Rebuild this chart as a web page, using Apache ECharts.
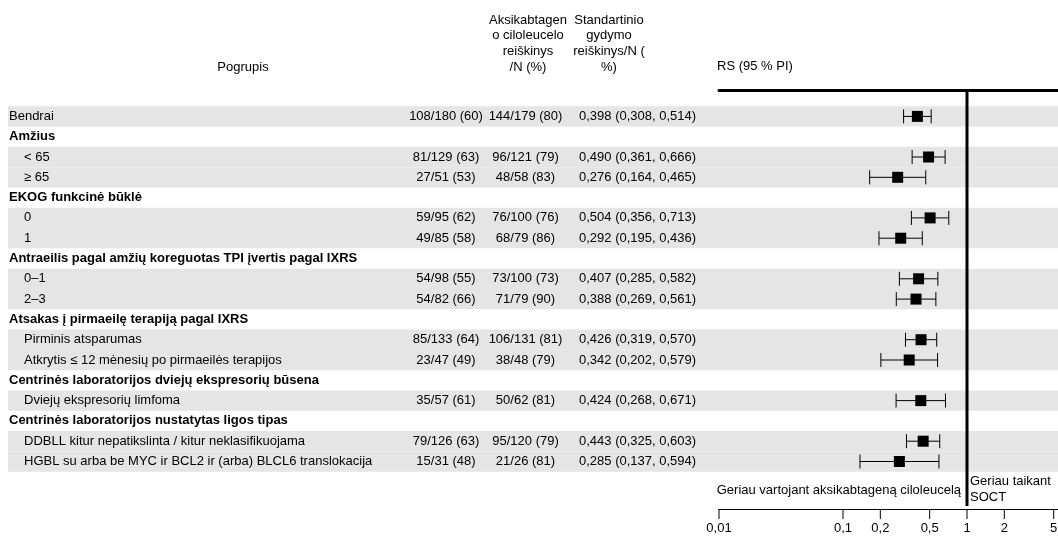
<!DOCTYPE html>
<html>
<head>
<meta charset="utf-8">
<script src="https://cdn.jsdelivr.net/npm/echarts@6/dist/echarts.min.js"></script>
<style>
  html, body { margin: 0; padding: 0; background: #fff; }
  #chart { width: 1058px; height: 538px; }
</style>
</head>
<body>
<div id="chart"></div>
<script>
// Subgroup rows, top to bottom
const subgroups = [
  'Bendrai',
  'Amžius',
  '< 65',
  '≥ 65',
  'EKOG funkcinė būklė',
  '0',
  '1',
  'Antraeilis pagal amžių koreguotas TPI įvertis pagal IXRS',
  '0–1',
  '2–3',
  'Atsakas į pirmaeilę terapiją pagal IXRS',
  'Pirminis atsparumas',
  'Atkrytis ≤ 12 mėnesių po pirmaeilės terapijos',
  'Centrinės laboratorijos dviejų ekspresorių būsena',
  'Dviejų ekspresorių limfoma',
  'Centrinės laboratorijos nustatytas ligos tipas',
  'DDBLL kitur nepatikslinta / kitur neklasifikuojama',
  'HGBL su arba be MYC ir BCL2 ir (arba) BLCL6 translokacija'
];
// 'all' = overall row, 'head' = bold group heading, 'sub' = indented subgroup
const rowKind = ['all', 'head', 'sub', 'sub', 'head', 'sub', 'sub', 'head', 'sub', 'sub',
                 'head', 'sub', 'sub', 'head', 'sub', 'head', 'sub', 'sub'];

// Axicabtagene ciloleucel arm: events / N (%)
const axiEvents = [108, null, 81, 27, null, 59, 49, null, 54, 54, null, 85, 23, null, 35, null, 79, 15];
const axiTotal  = [180, null, 129, 51, null, 95, 85, null, 98, 82, null, 133, 47, null, 57, null, 126, 31];
const axiPct    = [60, null, 63, 53, null, 62, 58, null, 55, 66, null, 64, 49, null, 61, null, 63, 48];

// Standard-of-care arm: events / N (%)
const socEvents = [144, null, 96, 48, null, 76, 68, null, 73, 71, null, 106, 38, null, 50, null, 95, 21];
const socTotal  = [179, null, 121, 58, null, 100, 79, null, 100, 79, null, 131, 48, null, 62, null, 120, 26];
const socPct    = [80, null, 79, 83, null, 76, 86, null, 73, 90, null, 81, 79, null, 81, null, 79, 81];

// Hazard ratio with 95 % CI
const hazardRatio = [0.398, null, 0.490, 0.276, null, 0.504, 0.292, null, 0.407, 0.388, null, 0.426, 0.342, null, 0.424, null, 0.443, 0.285];
const ciLower     = [0.308, null, 0.361, 0.164, null, 0.356, 0.195, null, 0.285, 0.269, null, 0.319, 0.202, null, 0.268, null, 0.325, 0.137];
const ciUpper     = [0.514, null, 0.666, 0.465, null, 0.713, 0.436, null, 0.582, 0.561, null, 0.570, 0.579, null, 0.671, null, 0.603, 0.594];

// Log axis tick values
const axisTicks = [0.01, 0.1, 0.2, 0.5, 1, 2, 5];

// Layout
const FONT_FAMILY = '"Liberation Sans", Arial, Helvetica, sans-serif';
const FONT_SIZE = 13;
const TEXT_COLOR = '#000';
const BAND_COLOR = '#e5e5e5';
const ROW0_Y = 116.4;          // centre of the first row, px
const ROW_PITCH = 20.3;        // row height, px
const GRID_TOP = 90;
const GRID_BOTTOM_Y = 509;
const Y_MIN = (GRID_TOP - ROW0_Y) / ROW_PITCH;
const Y_MAX = (GRID_BOTTOM_Y - ROW0_Y) / ROW_PITCH;
const LABEL_X = 9;
const SUB_X = 24;
const BAND_LEFT = 8;
const COL_AXI_X = 446;
const COL_SOC_X = 525.5;
const COL_HR_X = 579;

const fmt3 = v => v.toFixed(3).replace('.', ',');
const fmtTick = v => String(v).replace('.', ',');
const font = bold => (bold ? 'bold ' : '') + FONT_SIZE + 'px ' + FONT_FAMILY;

function textEl(x, y, text, align, bold) {
  return {
    type: 'text',
    style: {
      x: x, y: y, text: text,
      fill: TEXT_COLOR,
      font: font(bold),
      align: align, textAlign: align,
      verticalAlign: 'middle', textVerticalAlign: 'middle'
    }
  };
}

// Background bands and the text columns of each row
function renderRow(params, api) {
  const i = api.value(1);
  const cy = api.coord([1, i])[1];
  const h = api.size([0, 1])[1];
  const kind = rowKind[i];
  const children = [];
  if (kind !== 'head') {
    children.push({
      type: 'rect',
      shape: { x: BAND_LEFT, y: cy - h / 2, width: api.getWidth() - BAND_LEFT, height: h },
      style: { fill: BAND_COLOR }
    });
  }
  children.push(textEl(kind === 'sub' ? SUB_X : LABEL_X, cy, subgroups[i], 'left', kind === 'head'));
  if (kind !== 'head') {
    children.push(textEl(COL_AXI_X, cy, axiEvents[i] + '/' + axiTotal[i] + ' (' + axiPct[i] + ')', 'center'));
    children.push(textEl(COL_SOC_X, cy, socEvents[i] + '/' + socTotal[i] + ' (' + socPct[i] + ')', 'center'));
    children.push(textEl(COL_HR_X, cy,
      fmt3(hazardRatio[i]) + ' (' + fmt3(ciLower[i]) + ', ' + fmt3(ciUpper[i]) + ')', 'left'));
  }
  return { type: 'group', children: children };
}

// Square at the hazard ratio with whiskers to the CI limits
function renderForest(params, api) {
  const row = api.value(1);
  const c = api.coord([api.value(0), row]);
  const lo = api.coord([api.value(2), row]);
  const hi = api.coord([api.value(3), row]);
  const cap = 7, sq = 11;
  const stroke = { stroke: '#000', lineWidth: 1 };
  return {
    type: 'group',
    children: [
      { type: 'line', shape: { x1: lo[0], y1: c[1], x2: hi[0], y2: c[1] }, style: stroke },
      { type: 'line', shape: { x1: lo[0], y1: c[1] - cap, x2: lo[0], y2: c[1] + cap }, style: stroke },
      { type: 'line', shape: { x1: hi[0], y1: c[1] - cap, x2: hi[0], y2: c[1] + cap }, style: stroke },
      { type: 'rect', shape: { x: c[0] - sq / 2, y: c[1] - sq / 2, width: sq, height: sq }, style: { fill: '#000' } }
    ]
  };
}

// Tick marks and labels under the log axis
function renderTick(params, api) {
  const p = api.coord([api.value(0), api.value(1)]);
  return {
    type: 'group',
    children: [
      { type: 'line', shape: { x1: p[0], y1: p[1], x2: p[0], y2: p[1] + 10 }, style: { stroke: '#000', lineWidth: 1 } },
      textEl(p[0], p[1] + 19.5, fmtTick(api.value(0)), 'center')
    ]
  };
}

const rowData = subgroups.map((_, i) => [1, i]);
const forestData = [];
hazardRatio.forEach((hr, i) => {
  if (hr != null) forestData.push([hr, i, ciLower[i], ciUpper[i]]);
});
const tickData = axisTicks.map(v => [v, Y_MAX]);

const chart = echarts.init(document.getElementById('chart'), null, { renderer: 'canvas' });

const option = {
  animation: false,
  backgroundColor: '#fff',
  grid: { left: 719, top: GRID_TOP, width: 372, height: GRID_BOTTOM_Y - GRID_TOP, outerBoundsMode: 'none' },
  xAxis: [
    {
      type: 'log', logBase: 10, min: 0.01, max: 10, position: 'bottom',
      axisLine: { show: true, onZero: false, lineStyle: { color: '#000', width: 1 } },
      axisTick: { show: false }, axisLabel: { show: false }, splitLine: { show: false }
    },
    {
      type: 'log', logBase: 10, min: 0.01, max: 10, position: 'top',
      axisLine: { show: true, onZero: false, lineStyle: { color: '#000', width: 3 } },
      axisTick: { show: false }, axisLabel: { show: false }, splitLine: { show: false }
    }
  ],
  yAxis: { type: 'value', inverse: true, min: Y_MIN, max: Y_MAX, show: false },
  series: [
    {
      name: 'rows', type: 'custom', renderItem: renderRow, data: rowData,
      encode: { x: 0, y: 1 }, z: 1, silent: true, clip: false
    },
    {
      name: 'RS', type: 'custom', renderItem: renderForest, data: forestData,
      encode: { x: 0, y: 1 }, z: 3, silent: true, clip: false
    },
    {
      name: 'no effect', type: 'line', data: [[1, Y_MIN], [1, Y_MAX - 0.15]],
      symbol: 'none', lineStyle: { color: '#000', width: 3 }, z: 4, silent: true
    },
    {
      name: 'ticks', type: 'custom', renderItem: renderTick, data: tickData,
      encode: { x: 0, y: 1 }, z: 3, silent: true, clip: false
    }
  ]
};
chart.setOption(option);

// Column headings and direction labels
const refX = chart.convertToPixel({ xAxisIndex: 0 }, 1);
const headStyle = (x, y, text, align) => ({
  type: 'text', x: x, y: y,
  style: { text: text, fill: TEXT_COLOR, font: font(false), align: align, verticalAlign: 'middle' }
});
const HEAD_Y = [20, 35.8, 51.6, 67.4];
chart.setOption({
  graphic: [
    headStyle(243, 67, 'Pogrupis', 'center'),
    headStyle(528, HEAD_Y[0], 'Aksikabtagen', 'center'),
    headStyle(528, HEAD_Y[1], 'o ciloleucelo', 'center'),
    headStyle(528, HEAD_Y[2], 'reiškinys', 'center'),
    headStyle(528, HEAD_Y[3], '/N (%)', 'center'),
    headStyle(609, HEAD_Y[0], 'Standartinio', 'center'),
    headStyle(609, HEAD_Y[1], 'gydymo', 'center'),
    headStyle(609, HEAD_Y[2], 'reiškinys/N (', 'center'),
    headStyle(609, HEAD_Y[3], '%)', 'center'),
    headStyle(717, 66, 'RS (95 % PI)', 'left'),
    headStyle(refX - 6, 490, 'Geriau vartojant aksikabtageną ciloleucelą', 'right'),
    headStyle(refX + 3, 481.7, 'Geriau taikant', 'left'),
    headStyle(refX + 3, 497.3, 'SOCT', 'left')
  ]
});
</script>
</body>
</html>
